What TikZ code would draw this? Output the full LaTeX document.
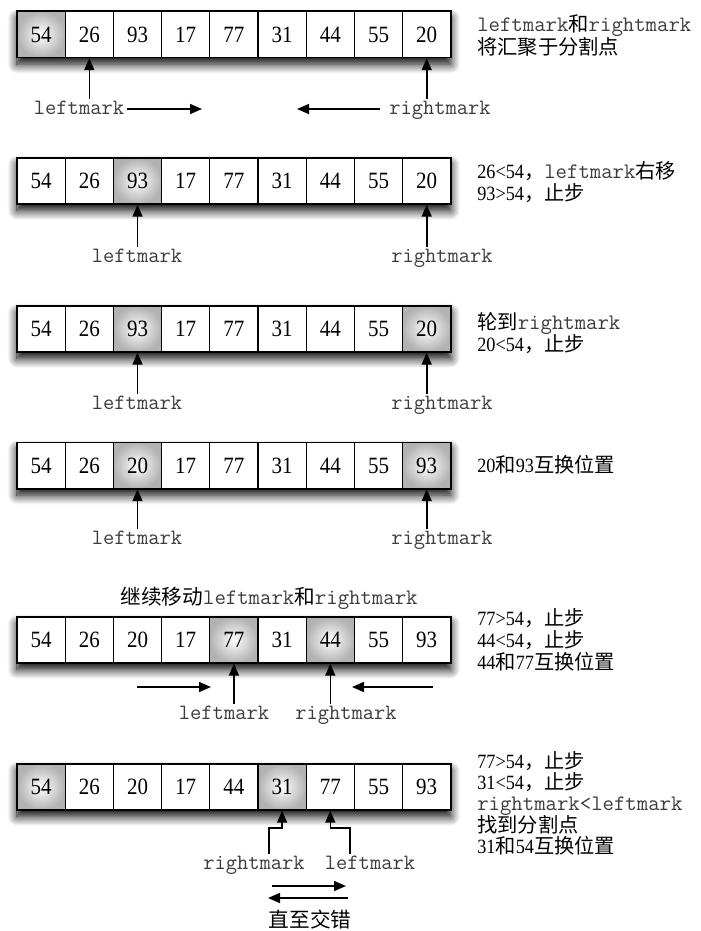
\documentclass[tikz,border=0pt]{standalone}
\usepackage{fontspec}
\setmainfont{Liberation Serif}[FakeStretch=0.9]
\newfontfamily\cjk{Noto Sans CJK SC}
\usetikzlibrary{arrows.meta,shadows.blur}
\definecolor{mk}{HTML}{3C3C3C}
\newcommand\zh[1]{{\cjk #1}}
\newcommand\mk[1]{{\fontsize{16.6pt}{17pt}\selectfont\ttfamily\color{mk}#1}}
\newcommand\arow[3]{%
  \node[band] (#1) at (233.9,#2) {};
  \foreach \v/\s [count=\i from 0] in {#3}
    \node[cell,\s] (#1c\i) at ({41.1+48.2*\i},#2) {\v};
}
\begin{document}
\begin{tikzpicture}[x=0.75pt,y=-0.75pt,
  band/.style={draw, line width=1.5pt, fill=white, minimum width=325.35pt, minimum height=34.5pt, inner sep=0pt,
    blur shadow={shadow xshift=0pt, shadow yshift=-5pt, shadow blur radius=7pt, shadow blur steps=10, shadow opacity=100}},
  cell/.style={draw, line width=1pt, fill=white, minimum width=36.15pt, minimum height=34.5pt, inner sep=0pt,
    font=\fontsize{17.5pt}{18pt}\selectfont},
  hot/.style={shading=radial, inner color=white, outer color=black!30},
  cold/.style={},
  lbl/.style={anchor=base, inner sep=1pt, text=mk, font=\fontsize{16.4pt}{17pt}\selectfont\ttfamily},
  rt/.style={anchor=base west, inner sep=0pt, text height=11pt, text depth=2.5pt, font=\fontsize{15.2pt}{18pt}\selectfont},
  ptr/.style={-{Triangle[length=9pt,width=7.5pt]}, line width=1.2pt}]
\useasboundingbox (0,0) rectangle (700,931);

% ---------- row 1
\arow{a}{34.5}{54/hot,26/cold,93/cold,17/cold,77/cold,31/cold,44/cold,55/cold,20/cold}
\node[lbl] (al) at (79,114) {leftmark};
\node[lbl] (ar) at (440,114) {rightmark};
\draw[ptr] (al.north -| ac1.south) -- (ac1.south);
\draw[ptr] (ar.north -| ac8.south) -- (ac8.south);
\coordinate (ah1) at (127,109); \coordinate (ah2) at (202,109);
\coordinate (ah3) at (380,109); \coordinate (ah4) at (297,109);
\draw[ptr] (ah1) -- (ah2);
\draw[ptr] (ah3) -- (ah4);
\node[rt] (at1) at (477,32) {\mk{leftmark}\zh{和}\mk{rightmark}};
\node[rt] (at2) at (477,55) {\zh{将汇聚于分割点}};

% ---------- row 2
\arow{b}{181}{54/cold,26/cold,93/hot,17/cold,77/cold,31/cold,44/cold,55/cold,20/cold}
\node[lbl] (bl) at (137,262) {leftmark};
\node[lbl] (br) at (442,262) {rightmark};
\draw[ptr] (bl.north -| bc2.south) -- (bc2.south);
\draw[ptr] (br.north -| bc8.south) -- (bc8.south);
\node[rt] (bt1) at (477,178) {26<54\zh{，}\mk{leftmark}\zh{右移}};
\node[rt] (bt2) at (477,200) {93>54\zh{，止步}};

% ---------- row 3
\arow{c}{329}{54/cold,26/cold,93/hot,17/cold,77/cold,31/cold,44/cold,55/cold,20/hot}
\node[lbl] (cl) at (137,409) {leftmark};
\node[lbl] (cr) at (442,409) {rightmark};
\draw[ptr] (cl.north -| cc2.south) -- (cc2.south);
\draw[ptr] (cr.north -| cc8.south) -- (cc8.south);
\node[rt] (ct1) at (477,329) {\zh{轮到}\mk{rightmark}};
\node[rt] (ct2) at (477,351) {20<54\zh{，止步}};

% ---------- row 4
\arow{d}{465.5}{54/cold,26/cold,20/hot,17/cold,77/cold,31/cold,44/cold,55/cold,93/hot}
\node[lbl] (dl) at (137,544) {leftmark};
\node[lbl] (dr) at (442,544) {rightmark};
\draw[ptr] (dl.north -| dc2.south) -- (dc2.south);
\draw[ptr] (dr.north -| dc8.south) -- (dc8.south);
\node[rt] (dt1) at (477,472) {20\zh{和}93\zh{互换位置}};

% ---------- row 5
\node[anchor=base, inner sep=0pt, font=\fontsize{15.5pt}{18pt}\selectfont] (etitle) at (269,604)
  {\zh{继续移动}\mk{leftmark}\zh{和}\mk{rightmark}};
\arow{e}{640}{54/cold,26/cold,20/cold,17/cold,77/hot,31/cold,44/hot,55/cold,93/cold}
\node[lbl] (el) at (224,719) {leftmark};
\node[lbl] (er) at (346,719) {rightmark};
\draw[ptr] (el.north -| ec4.south) -- (ec4.south);
\draw[ptr] (er.north -| ec6.south) -- (ec6.south);
\coordinate (eh1) at (137,687); \coordinate (eh2) at (211,687);
\coordinate (eh3) at (433,687); \coordinate (eh4) at (352,687);
\draw[ptr] (eh1) -- (eh2);
\draw[ptr] (eh3) -- (eh4);
\node[rt] (et1) at (477,625) {77>54\zh{，止步}};
\node[rt] (et2) at (477,647) {44<54\zh{，止步}};
\node[rt] (et3) at (477,669) {44\zh{和}77\zh{互换位置}};

% ---------- row 6
\arow{f}{787}{54/hot,26/cold,20/cold,17/cold,44/cold,31/hot,77/cold,55/cold,93/cold}
\node[lbl] (fr) at (254,869) {rightmark};
\node[lbl] (fl) at (370,869) {leftmark};
\coordinate (fj1) at (269,828);
\coordinate (fj2) at (350,828);
\draw[ptr] (fr.north -| fj1) -- (fj1) -| (fc5.south);
\draw[ptr] (fl.north -| fj2) -- (fj2) -| (fc6.south);
\coordinate (fh1) at (272,886); \coordinate (fh2) at (346,886);
\coordinate (fh3) at (348,898); \coordinate (fh4) at (268,898);
\draw[ptr] (fh1) -- (fh2);
\draw[ptr] (fh3) -- (fh4);
\node[anchor=base, inner sep=0pt, font=\fontsize{15.5pt}{18pt}\selectfont] (fcap) at (310,927) {\zh{直至交错}};
\node[rt] (ft1) at (477,768) {77>54\zh{，止步}};
\node[rt] (ft2) at (477,789) {31<54\zh{，止步}};
\node[rt] (ft3) at (477,810) {\mk{rightmark<leftmark}};
\node[rt] (ft4) at (477,832) {\zh{找到分割点}};
\node[rt] (ft5) at (477,853) {31\zh{和}54\zh{互换位置}};
\end{tikzpicture}
\end{document}
